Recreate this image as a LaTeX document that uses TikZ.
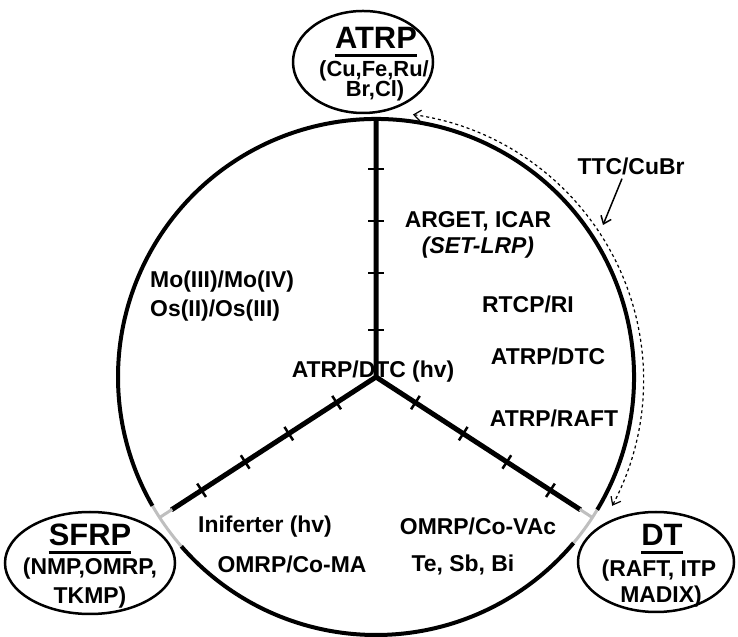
\documentclass[tikz,border=0pt]{standalone}
\usepackage{fontspec}
\setmainfont{Liberation Sans}
\usetikzlibrary{calc,arrows.meta}

\tikzset{
  lbl/.style={font=\fontsize{23}{26}\selectfont\bfseries, inner sep=0pt, anchor=base},
  ttl/.style={font=\fontsize{31}{34}\selectfont\bfseries, inner sep=0pt, anchor=base},
  ulin/.style={line width=3bp},
  rim/.style={line width=4bp},
  rimgray/.style={line width=3bp, black!25},
  spoke/.style={line width=5bp},
  tickmark/.style={line width=2.5bp},
  oval/.style={line width=2.5bp, fill=white},
}

\begin{document}
\begin{tikzpicture}[x=1bp, y=1bp, >={Straight Barb[length=7bp,width=11bp]}]
  \useasboundingbox (0,0) rectangle (738,637);
  % coordinates
  \coordinate (O) at (376,260);
  \coordinate (ttctip) at (603,412);
  % wheel
  \draw[rim] ($(O)+(-31:258)$) arc[start angle=-31, end angle=210, radius=258];
  \draw[rim] ($(O)+(221:258)$) arc[start angle=221, end angle=320, radius=258];
  \draw[rimgray] ($(O)+(210:258)$) arc[start angle=210, end angle=221, radius=258];
  \draw[rimgray] ($(O)+(320:258)$) arc[start angle=320, end angle=329, radius=258];
  % spokes
  \draw[spoke] ($(O)+(90:258)$) -- (O) -- ($(O)+(213:244)$);
  \draw[spoke] (O) -- ($(O)+(327:244)$);
  \draw[rimgray] ($(O)+(213:243)$) -- ($(O)+(213:258)$);
  \draw[rimgray] ($(O)+(327:243)$) -- ($(O)+(327:258)$);
  % ticks
  \foreach \a in {90,213,327}
    \foreach \r in {47,104,156,208}
      \draw[tickmark] ($(O)+(\a:\r)+(\a+90:8)$) -- ($(O)+(\a:\r)+(\a-90:8)$);
  % dashed link ATRP -- DT
  \draw[<->, dashed, line width=1.2bp] ($(O)+(82:265)$) arc[start angle=82, end angle=-28, radius=268];
  % ATRP
  \draw[oval] (363,575) ellipse [x radius=70, y radius=51];
  \node[ttl] (atrpT) at (376,588) {ATRP};
  \draw[ulin] ([yshift=-7bp]atrpT.base west) -- ([yshift=-7bp]atrpT.base east);
  \node[lbl, font=\fontsize{22}{25}\selectfont\bfseries] (atrpA) at (374,560) {(Cu,Fe,Ru/};
  \node[lbl, font=\fontsize{22}{25}\selectfont\bfseries] (atrpB) at (375,540) {Br,Cl)};
  % SFRP
  \draw[oval] (90,74) ellipse [x radius=85, y radius=51];
  \node[ttl] (sfrpT) at (90,91) {SFRP};
  \draw[ulin] ([yshift=-7bp]sfrpT.base west) -- ([yshift=-7bp]sfrpT.base east);
  \node[lbl] (sfrpA) at (90,62) {(NMP,OMRP,};
  \node[lbl] (sfrpB) at (90,33) {TKMP)};
  % DT
  \draw[oval] (656,75) ellipse [x radius=78, y radius=50];
  \node[ttl] (dtT) at (662,91) {DT};
  \draw[ulin] ([yshift=-7bp]dtT.base west) -- ([yshift=-7bp]dtT.base east);
  \node[lbl] (dtA) at (659,60) {(RAFT, ITP};
  \node[lbl] (dtB) at (661,34) {MADIX)};
  % labels inside
  \node[lbl] (arget) at (478,409) {ARGET, ICAR};
  \node[lbl] (setlrp) at (478,383) {\itshape (SET-LRP)};
  \node[lbl] (rtcp) at (528,324) {RTCP/RI};
  \node[lbl] (atrpdtc) at (548,272) {ATRP/DTC};
  \node[lbl] (dtchv) at (373,259) {ATRP/DTC (hv)};
  \node[lbl] (atrpraft) at (554,210) {ATRP/RAFT};
  \node[lbl] (covac) at (478,102) {OMRP/Co-VAc};
  \node[lbl] (tesb) at (463,65) {Te, Sb, Bi};
  \node[lbl] (inif) at (265,104) {Iniferter (hv)};
  \node[lbl] (coma) at (292,64) {OMRP/Co-MA};
  \node[lbl, anchor=base west] (mo) at (150,349) {Mo(III)/Mo(IV)};
  \node[lbl, anchor=base west] (os) at (150,320) {Os(II)/Os(III)};
  % TTC/CuBr
  \node[lbl] (ttc) at (631,462) {TTC/CuBr};
  \draw[->, line width=1.5bp] ([xshift=-9bp,yshift=-3bp]ttc.south) -- (ttctip);
\end{tikzpicture}
\end{document}
